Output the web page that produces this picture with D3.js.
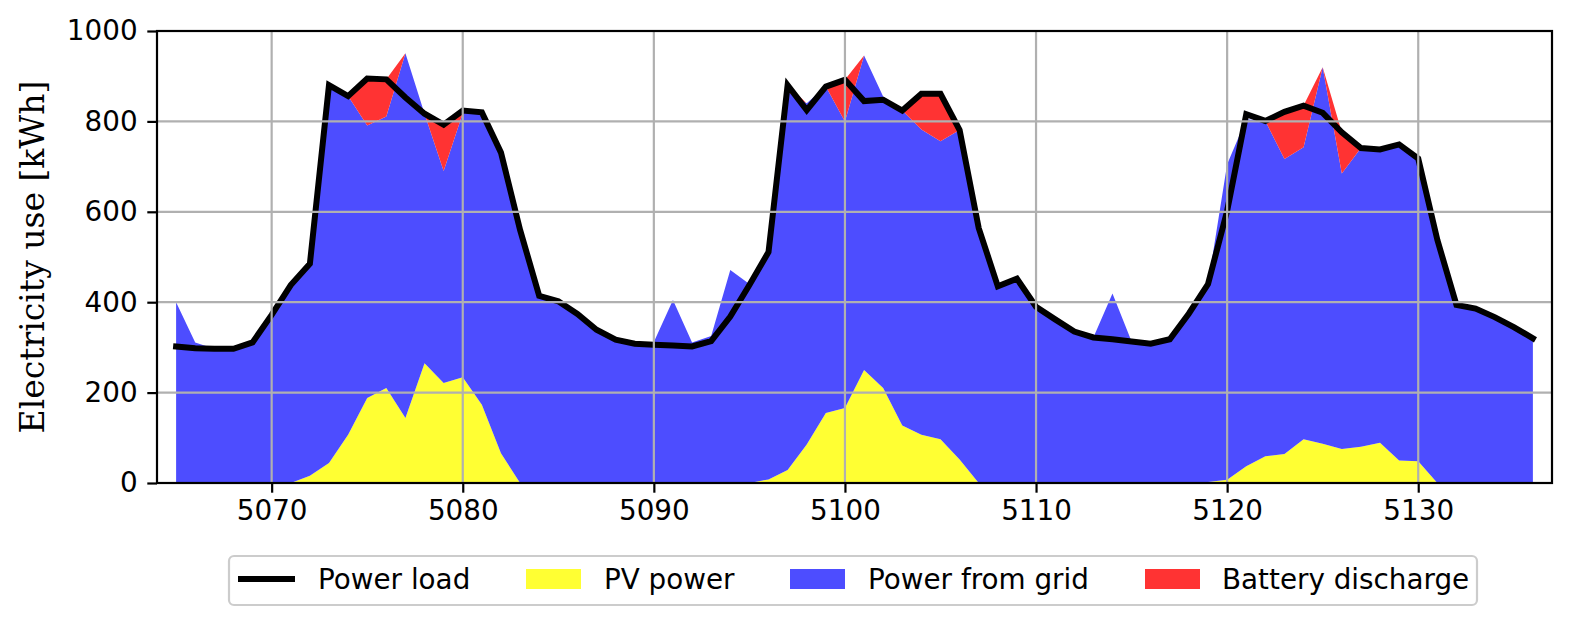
<!DOCTYPE html>
<html><head><meta charset="utf-8">
<script src="https://cdn.jsdelivr.net/npm/d3@7"></script>
<style>body{margin:0;background:#fff} svg{display:block}</style>
</head><body>
<svg id="c" width="1572" height="626"></svg>
<script>
const hours = d3.range(5065, 5137);
const powerLoad = [302,298,297,297,311,372,438,485,880,856,
  895,893,853,817,793,824,820,731,560,414,
  402,374,339,317,308,306,304,302,314,368,
  438,511,880,825,877,892,845,848,824,861,
  861,781,564,435,452,390,362,335,322,318,
  313,308,318,375,440,602,816,801,821,835,
  819,776,741,738,749,718,538,394,386,367,
  345,320];
const pvPower = [0,0,0,0,0,0,0,16,44,107,
  188,210,144,265,221,234,173,66,0,0,
  0,0,0,0,0,0,0,0,0,0,
  0,8,29,85,155,166,250,210,127,107,
  97,52,0,0,0,0,0,0,0,0,
  0,0,0,0,2,7,37,59,64,97,
  87,75,80,89,50,48,0,0,0,0,
  0,0];
const gridPower = [400,311,297,297,311,372,438,469,836,749,
  603,601,807,552,469,584,647,665,560,414,
  402,374,339,317,308,312,405,311,325,471,
  440,503,836,755,722,634,696,645,697,675,
  659,729,564,435,452,390,362,335,322,419,
  313,308,318,375,438,698,768,742,653,646,
  833,610,661,649,699,670,538,394,386,367,
  345,320];
const batteryDischarge = [0,0,0,0,0,0,0,0,0,0,
  104,82,0,0,103,6,0,0,0,0,
  0,0,0,0,0,0,0,0,0,0,
  0,0,15,0,0,92,0,0,0,79,
  105,0,0,0,0,0,0,0,0,0,
  0,0,0,0,0,0,0,0,104,92,
  0,91,0,0,0,0,0,0,0,0,
  0,0];
const xTicks = [5070,5080,5090,5100,5110,5120,5130];
const yTicks = [0,200,400,600,800,1000];
const seriesNames = ["Power load","PV power","Power from grid","Battery discharge"];
const colors = {pv:"#ffff33", grid:"#4d4dff", bat:"#ff3333", load:"#000000"};

const L=157, R=1552, T=31, B=483;
const svg = d3.select("#c");
const x = d3.scaleLinear().domain([5064,5137]).range([L,R]);
const y = d3.scaleLinear().domain([0,1000]).range([B,T]);

const rows = hours.map((h,i)=>({h, pv:pvPower[i], grid:gridPower[i], bat:batteryDischarge[i]}));
const stack = d3.stack().keys(["pv","grid","bat"]);
const layers = stack(rows);
const area = d3.area().x(d=>x(d.data.h)).y0(d=>y(d[0])).y1(d=>y(d[1]));

svg.append("defs").append("clipPath").attr("id","clip")
  .append("rect").attr("x",L).attr("y",T).attr("width",R-L).attr("height",B-T);

const g = svg.append("g").attr("clip-path","url(#clip)");
const fillColor = {pv:colors.pv, grid:colors.grid, bat:colors.bat};
g.selectAll("path.area").data(layers).enter().append("path")
  .attr("class","area").attr("d",area).attr("fill",d=>fillColor[d.key]).attr("stroke","none");

// grid lines
const grid = svg.append("g");
grid.selectAll("line.vx").data(xTicks).enter().append("line")
  .attr("x1",d=>x(d)).attr("x2",d=>x(d)).attr("y1",T).attr("y2",B)
  .attr("stroke","#b0b0b0").attr("stroke-width",2.2);
grid.selectAll("line.hy").data(yTicks).enter().append("line")
  .attr("y1",d=>y(d)).attr("y2",d=>y(d)).attr("x1",L).attr("x2",R)
  .attr("stroke","#b0b0b0").attr("stroke-width",2.2);

// load line
const line = d3.line().x((d,i)=>x(hours[i])).y(d=>y(d));
g.append("path").datum(powerLoad).attr("d",line).attr("fill","none")
  .attr("stroke",colors.load).attr("stroke-width",6).attr("stroke-linejoin","miter").attr("stroke-linecap","square");

// axes
const fontTick = "DejaVu Sans, sans-serif";
const xAxis = d3.axisBottom(x).tickValues(xTicks).tickSize(9.7).tickPadding(8).tickFormat(d3.format("d"));
const xa = svg.append("g").attr("transform",`translate(0,${B})`).call(xAxis);
xa.select(".domain").remove();
xa.selectAll(".tick line").attr("stroke","#000").attr("stroke-width",2.2);
xa.selectAll(".tick text").attr("font-family",fontTick).attr("font-size",27.8).attr("fill","#000");

const yAxis = d3.axisLeft(y).tickValues(yTicks).tickSize(9.7).tickPadding(9.7).tickFormat(d3.format("d"));
const ya = svg.append("g").attr("transform",`translate(${L},0)`).call(yAxis);
ya.select(".domain").remove();
ya.selectAll(".tick line").attr("stroke","#000").attr("stroke-width",2.2);
ya.selectAll(".tick text").attr("font-family",fontTick).attr("font-size",27.8).attr("fill","#000");

svg.append("rect").attr("x",L).attr("y",T).attr("width",R-L).attr("height",B-T)
  .attr("fill","none").attr("stroke","#000").attr("stroke-width",2.2);

svg.append("text").attr("transform",`translate(44,${(T+B)/2}) rotate(-90)`)
  .attr("text-anchor","middle").attr("font-family","DejaVu Serif, serif").attr("font-size",33)
  .text("Electricity use [kWh]");

// legend
const lg = svg.append("g");
lg.append("rect").attr("x",229).attr("y",556).attr("width",1248).attr("height",49)
  .attr("rx",5).attr("fill","#fff").attr("stroke","#cccccc").attr("stroke-width",2.2);
const cy = 579;
const items = [
  {name:seriesNames[0], type:"line", color:colors.load, hx:238, tx:318},
  {name:seriesNames[1], type:"patch", color:colors.pv, hx:526, tx:604},
  {name:seriesNames[2], type:"patch", color:colors.grid, hx:790, tx:868},
  {name:seriesNames[3], type:"patch", color:colors.bat, hx:1145, tx:1222}
];
items.forEach(it=>{
  if(it.type==="line"){
    lg.append("line").attr("x1",it.hx).attr("x2",it.hx+57).attr("y1",cy).attr("y2",cy)
      .attr("stroke",it.color).attr("stroke-width",6);
  } else {
    lg.append("rect").attr("x",it.hx).attr("y",cy-10).attr("width",55).attr("height",20).attr("fill",it.color);
  }
  lg.append("text").attr("x",it.tx).attr("y",cy).attr("dy","0.35em")
    .attr("font-family",fontTick).attr("font-size",27.8).attr("fill","#000").text(it.name);
});
</script>
</body></html>
